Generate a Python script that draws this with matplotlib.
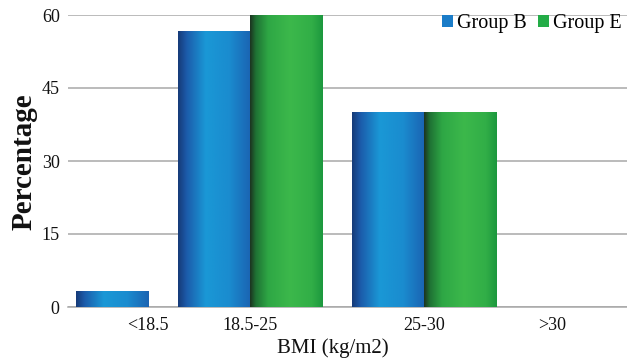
import numpy as np
import matplotlib
matplotlib.use("Agg")
import matplotlib.pyplot as plt
from matplotlib.colors import LinearSegmentedColormap
from matplotlib.patches import Patch

# BMI distribution by group (percent)
categories = ["<18.5", "18.5-25", "25-30", ">30"]
group_b = [3.3, 56.7, 40.0, 0.0]
group_e = [0.0, 60.0, 40.0, 0.0]
series_names = ["Group B", "Group E"]
y_ticks = [0, 15, 30, 45, 60]

# category centres (in bar widths) as laid out on the chart
centres = np.array([0.0, 1.42, 3.83, 5.61])
bar_w = 1.0

serif = ["Liberation Serif", "DejaVu Serif"]

fig = plt.figure(figsize=(6.27, 3.61), dpi=100)
ax = fig.add_axes([68 / 627, 1 - 307 / 361, 1 - 68 / 627, (307 - 15) / 361])

blue_cmap = LinearSegmentedColormap.from_list(
    "cyl_blue",
    [(0.0, "#163a78"), (0.12, "#1c5cab"), (0.38, "#1a98d6"),
     (0.7, "#1a8ccf"), (1.0, "#1b63b2")])
green_cmap = LinearSegmentedColormap.from_list(
    "cyl_green",
    [(0.0, "#1c3320"), (0.08, "#1f7234"), (0.25, "#2ea745"),
     (0.55, "#3cb84b"), (0.85, "#31ae47"), (1.0, "#1c983e")])

grad = np.linspace(0, 1, 256).reshape(1, -1)


def shaded_bars(xs, vals, cmap):
    bars = ax.bar(xs, vals, width=bar_w, align="edge", color="none",
                  edgecolor="none", zorder=3)
    for b, v in zip(bars, vals):
        if v <= 0:
            continue
        x0 = b.get_x()
        im = ax.imshow(grad, cmap=cmap, aspect="auto",
                       extent=(x0, x0 + b.get_width(), 0, v),
                       zorder=3, interpolation="bilinear")
        im.set_clip_path(b)
    return bars


shaded_bars(centres - bar_w, group_b, blue_cmap)
shaded_bars(centres, group_e, green_cmap)

ax.set_xlim(-1.11, 6.65)
ax.set_ylim(0, 60)
ax.set_yticks(y_ticks)
ax.yaxis.grid(True, color="#a8a8a8", linewidth=1.1, zorder=0)
ax.set_axisbelow(True)
for s in ["top", "right", "left"]:
    ax.spines[s].set_visible(False)
ax.spines["bottom"].set_color("#a8a8a8")
ax.spines["bottom"].set_linewidth(1.1)
ax.tick_params(axis="both", length=0, labelsize=13, colors="#111111")
ax.tick_params(axis="y", pad=6)
ax.tick_params(axis="x", pad=7)
ax.set_xticks(centres)
ax.set_xticklabels(categories, family=serif)
for t in ax.get_yticklabels():
    t.set_family(serif)

fig.text(0.038, 0.552, "Percentage", rotation=90, ha="center", va="center",
         fontsize=21, fontweight="bold", family=serif, color="#111111")
fig.text(0.531, 0.037, "BMI (kg/m2)", ha="center", va="center",
         fontsize=15, family=serif, color="#111111")

# legend
handles = [Patch(facecolor="#1a7cc8", edgecolor="none"),
           Patch(facecolor="#23ac47", edgecolor="none")]
leg = ax.legend(handles, series_names, loc="upper right",
                bbox_to_anchor=(1.012, 1.045), ncol=2, frameon=False,
                prop={"family": serif, "size": 14.5},
                handlelength=0.55, handleheight=0.55, handletextpad=0.2,
                columnspacing=0.55, borderaxespad=0.2)

fig.savefig("out.png", dpi=100)
